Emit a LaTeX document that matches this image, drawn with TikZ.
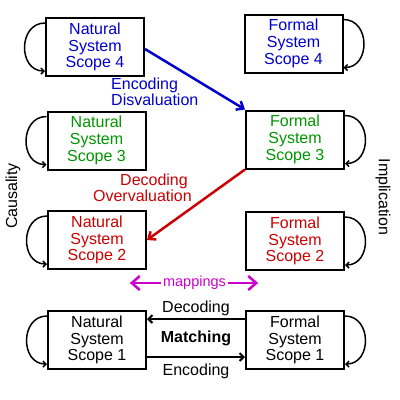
\documentclass[tikz,border=0pt]{standalone}
\usepackage{fontspec}
\setmainfont{Liberation Sans}
\usetikzlibrary{arrows.meta}
\definecolor{dblue}{RGB}{0,0,204}
\definecolor{dgreen}{RGB}{0,150,0}
\definecolor{dred}{RGB}{204,0,0}
\definecolor{dmag}{RGB}{204,0,204}
\begin{document}
\begin{tikzpicture}[x=1pt,y=-1pt,
  box/.style={draw,line width=2pt,minimum width=98pt,minimum height=58pt,inner sep=0pt,align=center,font=\fontsize{16}{16.7}\selectfont},
  selfloop/.style={line width=1.5pt,-{Straight Barb[length=3pt,width=6pt]}},
  conn/.style={line width=2pt,-{Straight Barb[length=4pt,width=8pt]}},
  diag/.style={line width=2.5pt,-{Straight Barb[length=6pt,width=10pt]}},
  maparr/.style={line width=2.5pt,dmag,-{Straight Barb[length=8pt,width=14pt]}},
  lbl/.style={inner sep=0pt,font=\fontsize{16}{16.7}\selectfont}]
\useasboundingbox (0,0) rectangle (400,400);
% boxes
\node[box,text=dblue]  (ns4) at (95,47)    {Natural\\System\\Scope 4};
\node[box,text=dgreen] (ns3) at (96.5,140.5) {Natural\\System\\Scope 3};
\node[box,text=dred]   (ns2) at (97,240)   {Natural\\System\\Scope 2};
\node[box]             (ns1) at (97,340)   {Natural\\System\\Scope 1};
\node[box,text=dblue]  (fs4) at (293.5,43.5) {Formal\\System\\Scope 4};
\node[box,text=dgreen] (fs3) at (295,139.5) {Formal\\System\\Scope 3};
\node[box,text=dred]   (fs2) at (295,241)  {Formal\\System\\Scope 2};
\node[box]             (fs1) at (295,340)  {Formal\\System\\Scope 1};
% self loops
\foreach \n in {ns4,ns3,ns2,ns1}
  \draw[selfloop] ([yshift=-6pt]\n.north west) .. controls +(-27,0) and +(-27,0) .. ([yshift=6pt]\n.south west);
\foreach \n in {fs4,fs3,fs2,fs1}
  \draw[selfloop] ([yshift=-6pt]\n.north east) .. controls +(27,0) and +(27,0) .. ([yshift=6pt]\n.south east);
% diagonal arrows
\draw[diag,dblue] ([yshift=-2pt]ns4.east) -- (fs3.north west);
\draw[diag,dred] (fs3.south west) -- (ns2.east);
\node[lbl,text=dblue,anchor=base west,align=left,font=\fontsize{16}{13.3}\selectfont] (encdis) at (111,105) {Encoding\\Disvaluation};
\node[lbl,text=dred,anchor=base east,align=right,font=\fontsize{16}{14.3}\selectfont] (decov) at (192,201) {Decoding\hspace*{4pt}\\Overvaluation};
% side labels
\node[lbl,rotate=90] (caus) at (13,196) {Causality};
\node[lbl,rotate=-90] (impl) at (383,197) {Implication};
% mappings
\node[text=dmag,inner sep=2pt,font=\fontsize{14.5}{15}\selectfont] (map) at (194.5,283) {mappings};
\coordinate (mapL) at ([xshift=-31pt]map.west);
\coordinate (mapR) at ([xshift=30pt]map.east);
\draw[maparr] (map.west) -- (mapL);
\draw[maparr] (map.east) -- (mapR);
% matching
\draw[conn] ([yshift=-9pt]fs1.north west) -- ([yshift=-9pt]ns1.north east);
\draw[conn] ([yshift=13pt]ns1.south east) -- ([yshift=13pt]fs1.south west);
\node[lbl,anchor=base] (dec) at (196,312) {Decoding};
\node[lbl,anchor=base,font=\fontsize{16}{16.7}\selectfont\bfseries] (match) at (196,342) {Matching};
\node[lbl,anchor=base] (enc) at (196,375) {Encoding};
\end{tikzpicture}
\end{document}
